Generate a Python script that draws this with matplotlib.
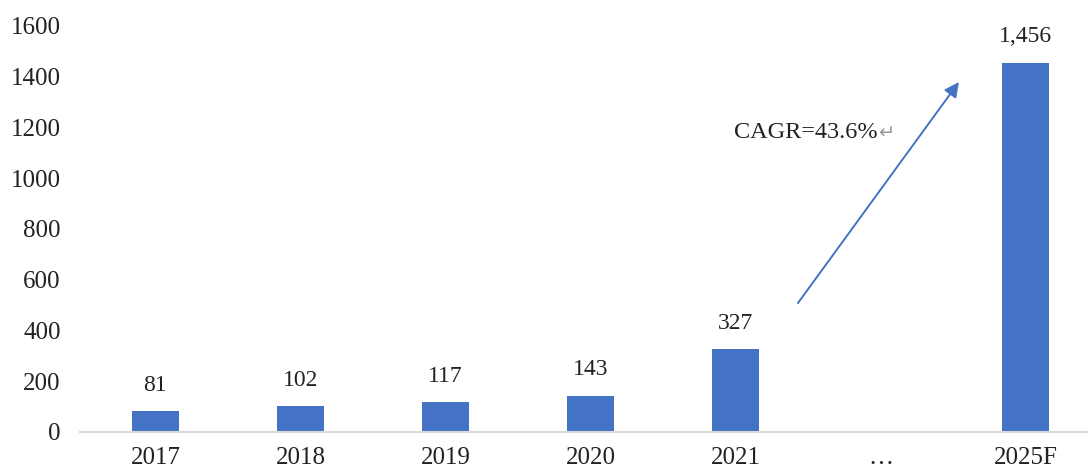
import matplotlib.pyplot as plt

# Market size by year (2025 is a forecast)
years = ['2017', '2018', '2019', '2020', '2021', '…', '2025F']
values = [81, 102, 117, 143, 327, None, 1456]
cagr_text = 'CAGR=43.6%'

plt.rcParams['font.family'] = ['Liberation Serif', 'DejaVu Sans']
bar_color = '#4472C4'

fig = plt.figure(figsize=(10.88, 4.71), dpi=100)
ax = fig.add_axes([80 / 1088, 1 - 432 / 471, 1008 / 1088, 406 / 471])

xs = [i for i, v in enumerate(values) if v is not None]
hs = [v for v in values if v is not None]
ax.bar(xs, hs, width=0.32, color=bar_color)

# value labels above each bar
for x, v in zip(xs, hs):
    ax.annotate(f'{v:,}', (x, v), xytext=(0, 11), textcoords='offset points',
                ha='center', va='bottom', fontsize=17, color='#222222')

# growth arrow and CAGR label
ax.annotate('', xy=(5.54, 1379), xytext=(4.43, 508),
            arrowprops=dict(arrowstyle='-|>', color=bar_color, lw=1.4,
                            mutation_scale=22, shrinkA=0, shrinkB=0))
t = ax.text(3.99, 1182, cagr_text, fontsize=17.5, va='center', ha='left', color='#222222')
ax.annotate('↵', xy=(1, 0.45), xycoords=t, va='center', ha='left',
            fontsize=14, color='#999999', family='DejaVu Sans')

ax.set_xlim(-0.52, 6.43)
ax.set_ylim(0, 1600)
ax.set_yticks(range(0, 1601, 200))
ax.set_xticks(range(len(years)))
ax.set_xticklabels(years)

for side in ['top', 'right', 'left']:
    ax.spines[side].set_visible(False)
ax.spines['bottom'].set_color('#D9D9D9')
ax.spines['bottom'].set_linewidth(1.5)
ax.tick_params(axis='y', length=0, pad=14, labelsize=18, labelcolor='#222222')
ax.tick_params(axis='x', length=0, pad=11, labelsize=18, labelcolor='#222222')

fig.savefig('out.png', dpi=100)
